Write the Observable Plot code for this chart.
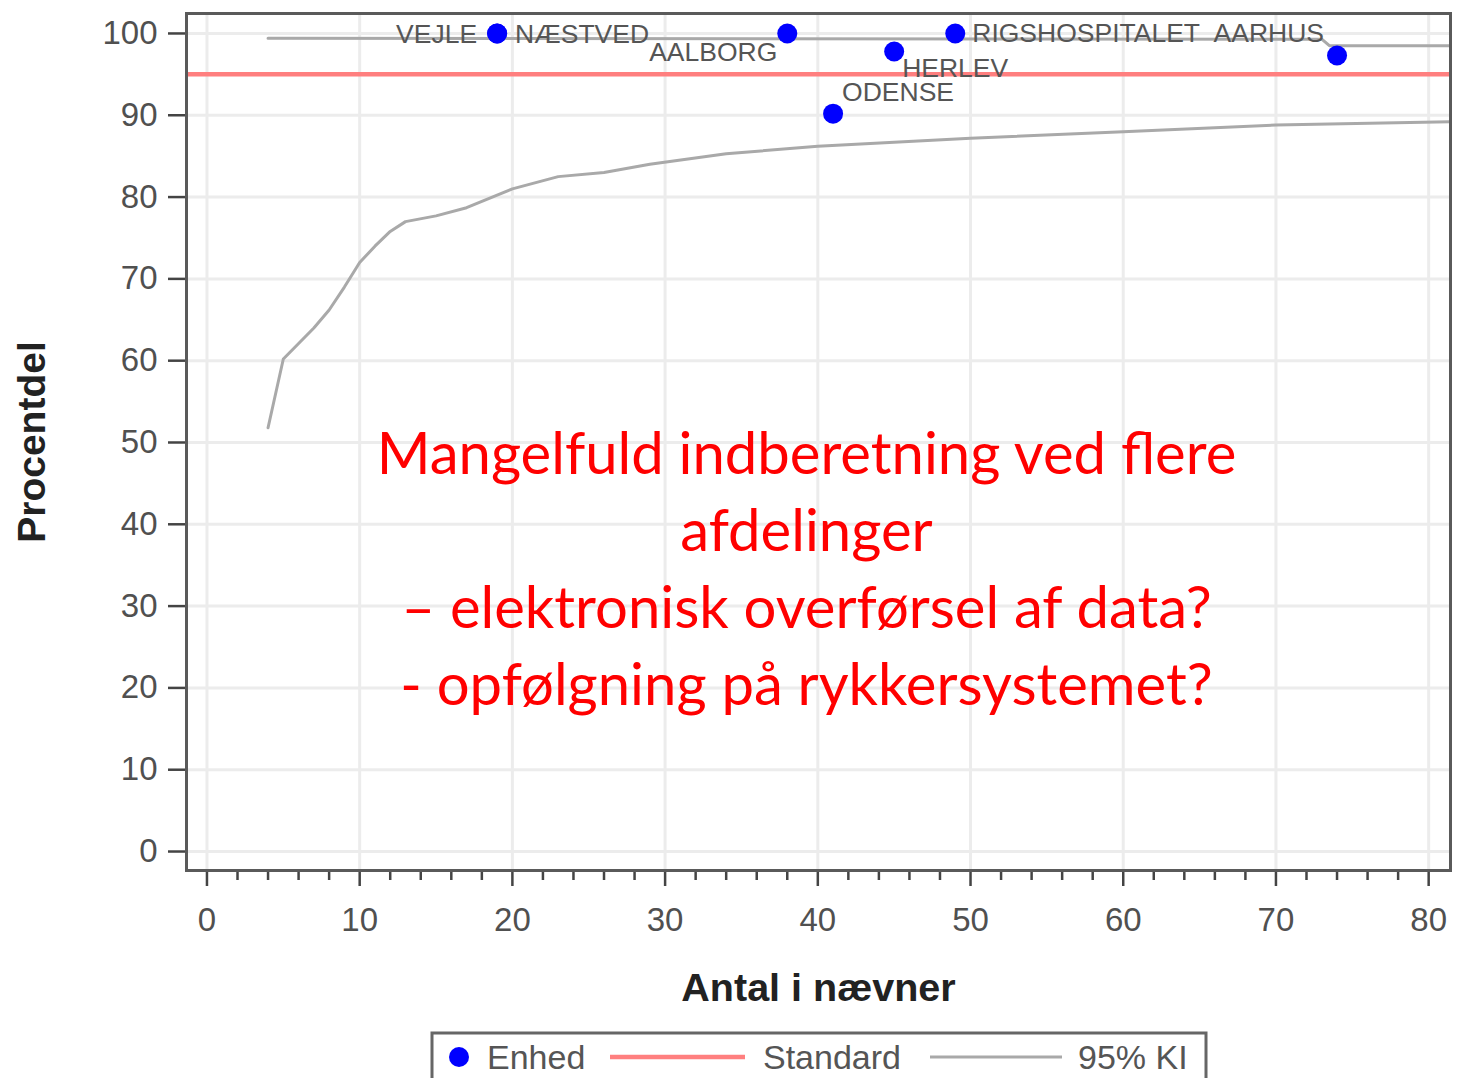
<!DOCTYPE html>
<html>
<head>
<meta charset="utf-8">
<script src="https://cdn.jsdelivr.net/npm/d3@7"></script>
<script src="https://cdn.jsdelivr.net/npm/@observablehq/plot@0.6"></script>
<style>
  html, body { margin: 0; padding: 0; background: #fff; }
  #chart svg { display: block; }
</style>
</head>
<body>
<div id="chart"></div>
<script>
// ---- Data ----
const unitNames = ["VEJLE", "NÆSTVED", "AALBORG", "RIGSHOSPITALET", "AARHUS", "HERLEV", "ODENSE"];
const unitN     = [19, 19, 38, 49, 74, 45, 41];
const unitPct   = [100, 100, 100, 100, 97.3, 97.8, 90.2];

const standardPct = 95;

const lowerN   = [4, 5, 6, 7, 8, 9, 10, 11, 12, 13, 15, 17, 20, 23, 26, 29, 34, 40, 50, 60, 70, 81.4];
const lowerPct = [51.8, 60.2, 62.1, 64, 66.2, 69, 72, 74, 75.8, 77, 77.7, 78.7, 81, 82.5, 83, 84, 85.3, 86.2, 87.2, 88, 88.8, 89.2];

const upperN   = [4, 73, 73.5, 81.4];
const upperPct = [99.4, 99.3, 98.5, 98.5];

const xMajorTicks = [0, 10, 20, 30, 40, 50, 60, 70, 80];
const xMinorTicks = [2, 4, 6, 8, 12, 14, 16, 18, 22, 24, 26, 28, 32, 34, 36, 38, 42, 44, 46, 48, 52, 54, 56, 58, 62, 64, 66, 68, 72, 74, 76, 78];
const yTicks = [0, 10, 20, 30, 40, 50, 60, 70, 80, 90, 100];

const xLabel = "Antal i nævner";
const yLabel = "Procentdel";
const annotation = "Mangelfuld indberetning ved flere\nafdelinger\n– elektronisk overførsel af data?\n- opfølgning på rykkersystemet?";

const legendLabels = ["Enhed", "Standard", "95% KI"];

// ---- Tables built from the arrays ----
const units = unitNames.map((name, i) => ({name, n: unitN[i], pct: unitPct[i]}));
const lower = lowerN.map((n, i) => ({n, pct: lowerPct[i]}));
const upper = upperN.map((n, i) => ({n, pct: upperPct[i]}));

// label placement (style only)
const labelPlacement = {
  "VEJLE":          {anchor: "end",   dx: -20, dy: 1},
  "NÆSTVED":        {anchor: "start", dx: 18,  dy: 1},
  "AALBORG":        {anchor: "end",   dx: -10, dy: 19},
  "RIGSHOSPITALET": {anchor: "start", dx: 17,  dy: 0},
  "AARHUS":         {anchor: "end",   dx: -13, dy: -22},
  "HERLEV":         {anchor: "start", dx: 8,   dy: 17},
  "ODENSE":         {anchor: "start", dx: 9,   dy: -21}
};

const tickColor = "#505050";
const labelMarks = units.map(u => {
  const p = labelPlacement[u.name];
  return Plot.text([u], {
    x: "n", y: "pct", text: "name",
    textAnchor: p.anchor, dx: p.dx, dy: p.dy,
    fontSize: 26.5, fill: "#555"
  });
});

const chart = Plot.plot({
  width: 1458,
  height: 1020,
  marginLeft: 186,
  marginRight: 8,
  marginTop: 13,
  marginBottom: 150,
  style: {fontFamily: "'Liberation Sans', Arial, sans-serif", background: "#fff"},
  x: {domain: [-1.34, 81.43]},
  y: {domain: [-2.32, 102.44]},
  marks: [
    Plot.gridX(xMajorTicks, {stroke: "#ececec", strokeOpacity: 1, strokeWidth: 3}),
    Plot.gridY(yTicks, {stroke: "#ececec", strokeOpacity: 1, strokeWidth: 3}),
    Plot.ruleY([standardPct], {stroke: "#ff7f7f", strokeWidth: 4.5}),
    Plot.line(lower, {x: "n", y: "pct", stroke: "#a9a9a9", strokeWidth: 3}),
    Plot.line(upper, {x: "n", y: "pct", stroke: "#a9a9a9", strokeWidth: 3}),
    ...labelMarks,
    Plot.dot(units, {x: "n", y: "pct", r: 10, fill: "#0000ff", stroke: null}),
    Plot.axisX(xMajorTicks, {tickSize: 16, tickPadding: 21, fontSize: 33, stroke: "#444", strokeWidth: 2.5, fill: tickColor, label: null}),
    Plot.axisX(xMinorTicks, {tickSize: 10, text: null, stroke: "#444", strokeWidth: 2.5, label: null}),
    Plot.axisY(yTicks, {tickSize: 18, tickPadding: 11, fontSize: 33, stroke: "#444", strokeWidth: 2.5, fill: tickColor, label: null}),
    Plot.frame({stroke: "#5a5a5a", strokeWidth: 3}),
    Plot.text([yLabel], {frameAnchor: "left", textAnchor: "middle", lineAnchor: "middle", dx: -154, rotate: -90, fontSize: 39, fontWeight: "bold", fill: "#222"}),
    Plot.text([xLabel], {frameAnchor: "bottom", textAnchor: "middle", lineAnchor: "middle", dy: 118, fontSize: 39.5, fontWeight: "bold", fill: "#222"}),
    Plot.text([annotation], {frameAnchor: "middle", textAnchor: "middle", lineAnchor: "middle", dx: -12, dy: 123, fontSize: 58, lineHeight: 1.33, fill: "#ff0000", fontFamily: "Lato, 'Open Sans', sans-serif"})
  ]
});
document.getElementById("chart").appendChild(chart);

// ---- Legend ----
const leg = d3.select("#chart").append("svg")
  .attr("width", 1458).attr("height", 58)
  .style("font-family", "'Liberation Sans', Arial, sans-serif");
leg.append("rect").attr("x", 432).attr("y", 13).attr("width", 774).attr("height", 70)
  .attr("fill", "#fff").attr("stroke", "#666").attr("stroke-width", 3);
leg.append("circle").attr("cx", 459).attr("cy", 37).attr("r", 10).attr("fill", "#0000ff");
leg.append("line").attr("x1", 610).attr("x2", 745).attr("y1", 37).attr("y2", 37)
  .attr("stroke", "#ff7f7f").attr("stroke-width", 4.5);
leg.append("line").attr("x1", 930).attr("x2", 1062).attr("y1", 37).attr("y2", 37)
  .attr("stroke", "#a9a9a9").attr("stroke-width", 3);
[[487, legendLabels[0]], [763, legendLabels[1]], [1078, legendLabels[2]]].forEach(([x, t]) => {
  leg.append("text").attr("x", x).attr("y", 49).attr("font-size", 34).attr("fill", "#555").text(t);
});
</script>
</body>
</html>
